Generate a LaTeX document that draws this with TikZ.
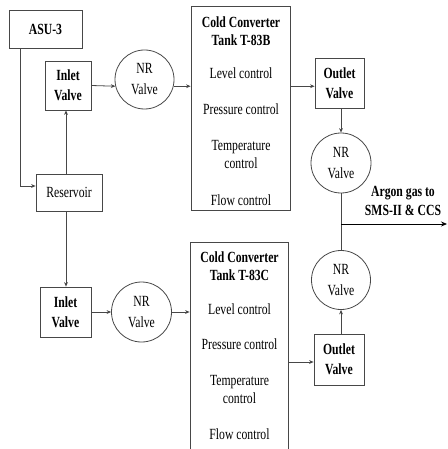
\documentclass[tikz,border=0pt]{standalone}
\usepackage{fontspec}
\setmainfont{Liberation Serif}[FakeStretch=0.755]
\usetikzlibrary{arrows.meta}
\newcommand\dgfont[1]{\fontsize{15.5}{#1}\selectfont}
\begin{document}
\begin{tikzpicture}[x=1pt,y=-1pt,
  ln/.style={draw=black!72, line width=0.8pt},
  arr/.style={ln, -{Stealth[length=4.5pt,width=3.8pt]}},
  box/.style={draw=black!72, line width=0.8pt, inner sep=0pt, align=center, font=\dgfont{20}\bfseries},
  nrv/.style={circle, draw=black!72, line width=0.8pt, inner sep=0pt, minimum size=59pt, align=center, font=\dgfont{21}},
  tank/.style={draw=black!72, line width=0.8pt, inner sep=0pt},
  txt/.style={inner sep=0pt, align=center, font=\dgfont{17.5}},
  ttl/.style={inner sep=0pt, align=center, font=\dgfont{18}\bfseries}]
\useasboundingbox (0,0) rectangle (447,449);
\clip (0,0) rectangle (447,449);
% top row
\node[box, minimum width=73pt, minimum height=38pt] (asu) at (45.5,29) {ASU-3};
\node[box, minimum width=46pt, minimum height=49pt] (in1) at (68,85.5) {Inlet\\Valve};
\node[nrv] (nr1) at (144.5,79.5) {NR\\Valve};
\node[tank, minimum width=99pt, minimum height=204pt] (tk1) at (240.5,108) {};
\node[ttl] (tk1t) at (241,31) {Cold Converter\\Tank T-83B};
\node[txt] (tk1a) at (241,73) {Level control};
\node[txt] (tk1b) at (241,109) {Pressure control};
\node[txt] (tk1c) at (241,154.5) {Temperature\\control};
\node[txt] (tk1d) at (241,200) {Flow control};
\node[box, minimum width=49pt, minimum height=50pt] (out1) at (339.5,83) {Outlet\\Valve};
\node[nrv, minimum size=60pt] (nr2) at (341,163) {NR\\Valve};
\node[ttl, font=\dgfont{19}\bfseries] (argon) at (403,200.5) {Argon gas to\\SMS-II \& CCS};
% reservoir
\node[box, font=\dgfont{18}, minimum width=66pt, minimum height=37pt] (res) at (69,192.5) {Reservoir};
% bottom row
\node[box, minimum width=51pt, minimum height=50pt] (in2) at (65.5,312) {Inlet\\Valve};
\node[nrv, minimum size=60pt] (nr3) at (141.5,312) {NR\\Valve};
\node[tank, minimum width=98pt, minimum height=218pt] (tk2) at (239,351) {};
\node[ttl] (tk2t) at (239.5,266) {Cold Converter\\Tank T-83C};
\node[txt] (tk2a) at (239.5,309) {Level control};
\node[txt] (tk2b) at (239.5,344) {Pressure control};
\node[txt] (tk2c) at (239.5,389.5) {Temperature\\control};
\node[txt] (tk2d) at (239.5,434) {Flow control};
\node[nrv] (nr4) at (341,280) {NR\\Valve};
\node[box, minimum width=50pt, minimum height=51pt] (out2) at (339,359.5) {Outlet\\Valve};
\coordinate (j) at (341,224);
\coordinate (outend) at (447,224);
% connectors
\draw[arr] ([xshift=12pt]asu.south west) |- ([yshift=6.5pt]res.west);
\draw[arr] ([xshift=-3pt]res.north) -- ([xshift=-3pt]res.north |- in1.south);
\draw[arr] ([xshift=-3pt]res.south) -- ([xshift=-3pt]res.south |- in2.north);
\draw[arr] (in1.east) -- (nr1.193);
\draw[arr] (nr1.-13) -- (nr1.-13 -| tk1.west);
\draw[arr] (tk1.east |- nr1.-13) -- (out1.west |- nr1.-13);
\draw[arr] (out1.south -| nr2.north) -- (nr2.north);
\draw[ln] (nr2.south) -- (nr4.north);
\draw[ln, -{Stealth[length=6pt,width=5pt]}, draw=black] (j) -- (outend);
\draw[arr] (out2.north -| nr4.south) -- (nr4.south);
\draw[arr] (in2.east) -- (nr3.west);
\draw[arr] (nr3.east) -- (nr3.east -| tk2.west);
\draw[arr] (tk2.east |- 0,362) -- (out2.west |- 0,362);
\end{tikzpicture}
\end{document}
